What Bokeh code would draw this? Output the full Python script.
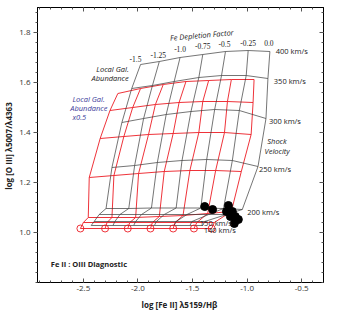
from bokeh.plotting import figure
from bokeh.models import (LinearAxis, Label, LabelSet, ColumnDataSource, Range1d,
                          FixedTicker, NumeralTickFormatter)
from bokeh.embed import file_html
from bokeh.resources import INLINE

# ---------------- data ----------------
depletion = ["-1.5", "-1.25", "-1.0", "-0.75", "-0.5", "-0.25", "0.0"]

# Local Galactic abundance grid (black): one list per shock velocity
blk_vel = [140, 150, 175, 200, 250, 300, 350, 400]
blk_x_140 = [-2.428, -2.229, -2.039, -1.849, -1.668, -1.524, -1.406]
blk_y_140 = [1.028, 1.028, 1.028, 1.028, 1.028, 1.028, 1.028]
blk_x_150 = [-2.401, -2.211, -2.021, -1.831, -1.650, -1.505, -1.388]
blk_y_150 = [1.044, 1.044, 1.044, 1.044, 1.044, 1.044, 1.044]
blk_x_175 = [-2.355, -2.165, -1.967, -1.759, -1.551, -1.352, -1.189]
blk_y_175 = [1.072, 1.072, 1.072, 1.072, 1.072, 1.072, 1.072]
blk_x_200 = [-2.292, -2.084, -1.876, -1.650, -1.424, -1.216, -1.044]
blk_y_200 = [1.096, 1.096, 1.098, 1.098, 1.098, 1.096, 1.092]
blk_x_250 = [-2.238, -2.030, -1.822, -1.596, -1.370, -1.135, -0.900]
blk_y_250 = [1.260, 1.268, 1.280, 1.288, 1.292, 1.288, 1.264]
blk_x_300 = [-2.147, -1.948, -1.741, -1.514, -1.297, -1.071, -0.827]
blk_y_300 = [1.440, 1.456, 1.472, 1.484, 1.492, 1.488, 1.456]
blk_x_350 = [-2.057, -1.867, -1.668, -1.442, -1.234, -1.008, -0.809]
blk_y_350 = [1.576, 1.588, 1.604, 1.620, 1.628, 1.628, 1.616]
blk_x_400 = [-1.976, -1.804, -1.614, -1.406, -1.198, -0.990, -0.791]
blk_y_400 = [1.672, 1.684, 1.700, 1.712, 1.724, 1.728, 1.724]

# Local Galactic abundance x0.5 grid (red)
red_vel = [140, 150, 200, 250, 300, 350, 400]
red_x_140 = [-2.527, -2.301, -2.093, -1.885, -1.677, -1.487, -1.325]
red_y_140 = [1.016, 1.016, 1.016, 1.016, 1.016, 1.016, 1.016]
red_x_150 = [-2.500, -2.283, -2.075, -1.867, -1.659, -1.460, -1.300]
red_y_150 = [1.040, 1.040, 1.040, 1.040, 1.040, 1.040, 1.040]
red_x_200 = [-2.455, -2.238, -2.021, -1.804, -1.587, -1.361, -1.144]
red_y_200 = [1.060, 1.060, 1.060, 1.064, 1.068, 1.076, 1.084]
red_x_250 = [-2.446, -2.220, -1.994, -1.759, -1.524, -1.288, -1.053]
red_y_250 = [1.220, 1.228, 1.236, 1.244, 1.248, 1.248, 1.244]
red_x_300 = [-2.346, -2.129, -1.903, -1.677, -1.442, -1.207, -0.963]
red_y_300 = [1.376, 1.384, 1.392, 1.396, 1.400, 1.400, 1.392]
red_x_350 = [-2.256, -2.048, -1.840, -1.623, -1.406, -1.180, -0.945]
red_y_350 = [1.488, 1.500, 1.512, 1.520, 1.524, 1.524, 1.520]
red_x_400 = [-2.184, -1.976, -1.768, -1.560, -1.352, -1.144, -0.936]
red_y_400 = [1.556, 1.576, 1.592, 1.604, 1.608, 1.612, 1.612]

# observed points
obs_x = [-1.388, -1.316, -1.171, -1.189, -1.135, -1.153, -1.108, -1.080, -1.117]
obs_y = [1.104, 1.092, 1.108, 1.084, 1.084, 1.064, 1.064, 1.052, 1.036]

x_ticks = [-2.5, -2.0, -1.5, -1.0, -0.5]
y_ticks = [1.0, 1.2, 1.4, 1.6, 1.8]

# ---------------- figure ----------------
FONT = "Open Sans"
RED = "#ec1c24"
GREY = "#3a3a3a"
BLUE = "#3b3b9a"

p = figure(width=350, height=320, x_range=Range1d(-2.92, -0.3), y_range=Range1d(0.8, 1.9),
           output_backend="svg", toolbar_location=None,
           min_border_left=34, min_border_right=27, min_border_top=7, min_border_bottom=38)
p.grid.visible = False
p.outline_line_color = "black"
p.outline_line_width = 1

xt = FixedTicker(ticks=x_ticks, minor_ticks=[round(-2.9 + 0.1 * i, 2) for i in range(26)])
yt = FixedTicker(ticks=y_ticks, minor_ticks=[round(0.8 + 0.04 * i, 2) for i in range(28)])

for ax in p.xaxis:
    ax.ticker = xt
    ax.major_tick_in, ax.major_tick_out = 4, 0
    ax.minor_tick_in, ax.minor_tick_out = 2, 0
    ax.axis_label = "log  [Fe II] λ5159/Hβ"
    ax.axis_label_standoff = 5
for ax in p.yaxis:
    ax.ticker = yt
    ax.major_tick_in, ax.major_tick_out = 0, 4
    ax.minor_tick_in, ax.minor_tick_out = 0, 2
    ax.axis_label = "log  [O III] λ5007/λ4363"
    ax.axis_label_standoff = 2

for ax in list(p.xaxis) + list(p.yaxis):
    ax.formatter = NumeralTickFormatter(format="0.0")
    ax.axis_line_color = "black"
    ax.major_tick_line_color = "#555555"
    ax.minor_tick_line_color = "#555555"
    ax.major_label_text_font = FONT
    ax.major_label_text_font_size = "8px"
    ax.major_label_text_color = "#333333"
    ax.major_label_standoff = 3
    ax.axis_label_text_font = FONT
    ax.axis_label_text_font_size = "8px"
    ax.axis_label_text_font_style = "bold"
    ax.axis_label_text_color = "#222222"

for loc, tk, ticks in (("above", xt, x_ticks), ("right", yt, y_ticks)):
    a = LinearAxis(ticker=tk, major_label_overrides={t: "" for t in ticks},
                   major_label_standoff=0,
                   major_tick_in=4, major_tick_out=0, minor_tick_in=2, minor_tick_out=0,
                   axis_line_color="black", major_tick_line_color="#555555",
                   minor_tick_line_color="#555555")
    p.add_layout(a, loc)

blk_x = [blk_x_140, blk_x_150, blk_x_175, blk_x_200, blk_x_250, blk_x_300, blk_x_350, blk_x_400]
blk_y = [blk_y_140, blk_y_150, blk_y_175, blk_y_200, blk_y_250, blk_y_300, blk_y_350, blk_y_400]
red_x = [red_x_140, red_x_150, red_x_200, red_x_250, red_x_300, red_x_350, red_x_400]
red_y = [red_y_140, red_y_150, red_y_200, red_y_250, red_y_300, red_y_350, red_y_400]

def grid_lines(xr, yr, color, width):
    n = len(depletion)
    p.multi_line(xs=xr, ys=yr, line_color=color, line_width=width)
    p.multi_line(xs=[[row[j] for row in xr] for j in range(n)],
                 ys=[[row[j] for row in yr] for j in range(n)],
                 line_color=color, line_width=width)

grid_lines(red_x, red_y, RED, 0.9)
grid_lines(blk_x, blk_y, GREY, 0.7)
p.scatter(red_x_140, red_y_140, size=7, marker="circle", fill_color=None,
          line_color=RED, line_width=0.9)

p.scatter(obs_x, obs_y, size=8, color="black")

# depletion labels above the top of the black grid (screen-pixel nudges)
src = ColumnDataSource(dict(x=blk_x_400, y=blk_y_400, t=depletion,
                            dx=[-5, -1, 0, 0, -1, 0, -1], dy=[6, 7, 9, 9, 8, 8, 9]))
p.add_layout(LabelSet(x="x", y="y", text="t", source=src, x_offset="dx", y_offset="dy",
                      text_align="center", text_baseline="middle", text_font=FONT,
                      text_font_size="7.5px", text_color="#222222"))

def lab(x, y, t, **kw):
    opts = dict(text_font=FONT, text_font_size="7.5px", text_color="#222222",
                text_baseline="middle", text_align="left")
    opts.update(kw)
    p.add_layout(Label(x=x, y=y, text=t, **opts))

vel_lab_x = [-0.737, -0.755, -0.800, -0.891, -0.999, -1.433, -1.397]
vel_lab_y = [1.728, 1.608, 1.448, 1.256, 1.084, 1.040, 1.012]
vel_lab_t = ["400 km/s", "350 km/s", "300 km/s", "250 km/s", "200 km/s", "150 km/s", "140 km/s"]
for x, y, t in zip(vel_lab_x, vel_lab_y, vel_lab_t):
    lab(x, y, t)

lab(-1.415, 1.790, "Fe Depletion Factor", text_align="center", angle=0.09,
    text_font_style="italic")
lab(-2.084, 1.656, "Local Gal.", text_align="right", text_font_style="italic")
lab(-2.084, 1.620, "Abundance", text_align="right", text_font_style="italic")
lab(-2.600, 1.536, "Local Gal.", text_font_style="italic", text_color=BLUE)
lab(-2.620, 1.500, "Abundance", text_font_style="italic", text_color=BLUE)
lab(-2.600, 1.464, "x0.5", text_font_style="italic", text_color=BLUE)
lab(-0.815, 1.368, "Shock", text_font_style="italic")
lab(-0.840, 1.328, "Velocity", text_font_style="italic")
lab(-2.798, 0.876, "Fe II : OIII Diagnostic", text_font_style="bold", text_font_size="7.5px")

open("out.html", "w").write(file_html(p, INLINE))
